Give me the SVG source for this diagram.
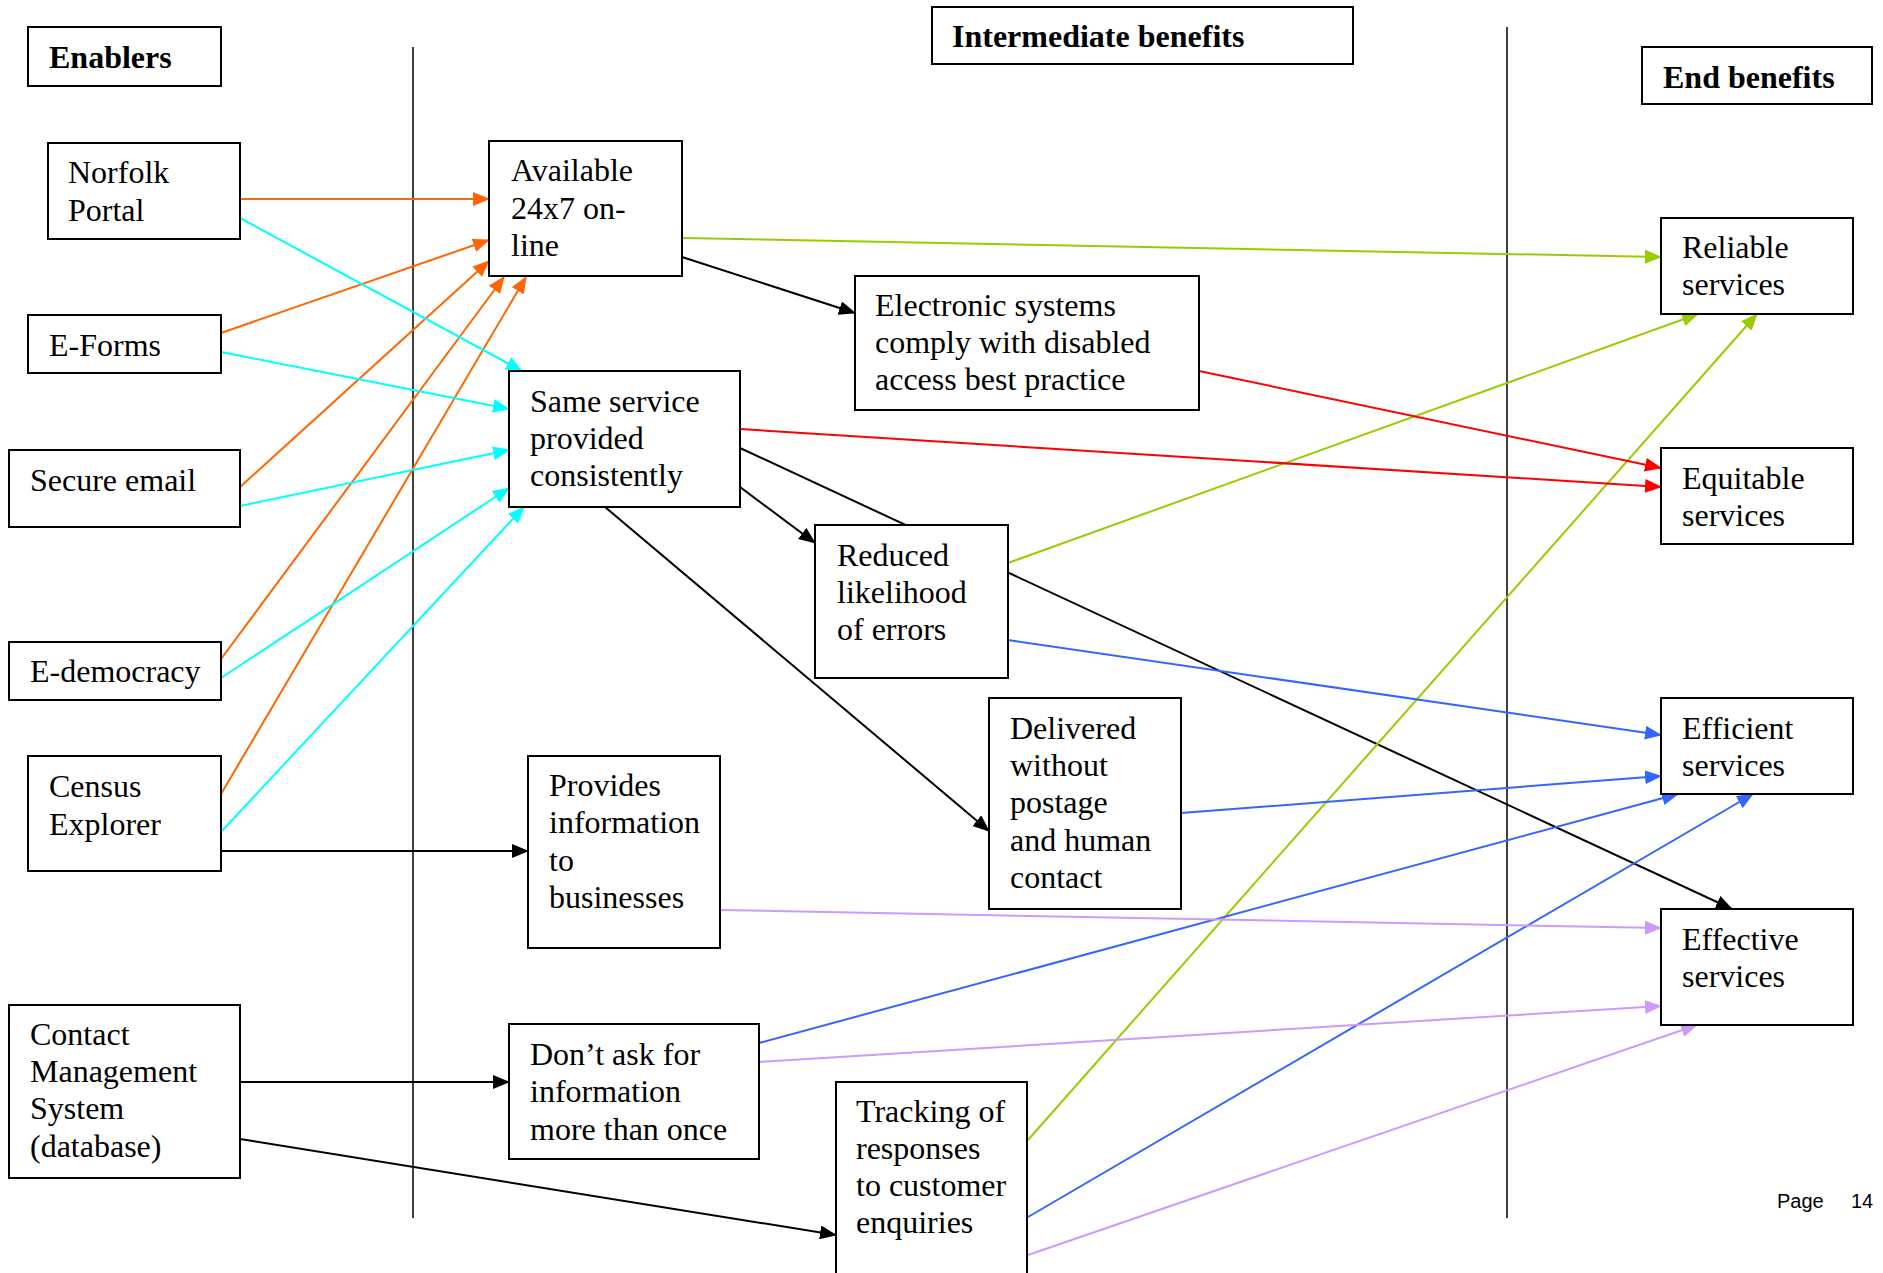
<svg xmlns="http://www.w3.org/2000/svg" width="1883" height="1273" viewBox="0 0 1883 1273">
<style>
.box{fill:#fff;stroke:#000;stroke-width:2}
.t{font-family:"Liberation Serif","Times New Roman",serif;font-size:32px;fill:#000}
.h{font-family:"Liberation Serif","Times New Roman",serif;font-size:32px;font-weight:bold;fill:#000}
.div{stroke:#000;stroke-width:1.5}
.c{fill:none;stroke-width:2}
.or{stroke:#FF6600;marker-end:url(#mo)}
.cy{stroke:#00FFFF;marker-end:url(#mc)}
.bk{stroke:#000;marker-end:url(#mb)}
.gr{stroke:#99CC00;marker-end:url(#mg)}
.rd{stroke:#FF0000;marker-end:url(#mr)}
.bl{stroke:#3366FF;marker-end:url(#mu)}
.pu{stroke:#CC99FF;marker-end:url(#mp)}
</style>
<defs>
<marker id="mo" markerUnits="userSpaceOnUse" markerWidth="17" markerHeight="14" refX="16" refY="7" orient="auto"><path d="M0,0 L17,7 L0,14 z" fill="#FF6600"/></marker>
<marker id="mc" markerUnits="userSpaceOnUse" markerWidth="17" markerHeight="14" refX="16" refY="7" orient="auto"><path d="M0,0 L17,7 L0,14 z" fill="#00FFFF"/></marker>
<marker id="mb" markerUnits="userSpaceOnUse" markerWidth="17" markerHeight="14" refX="16" refY="7" orient="auto"><path d="M0,0 L17,7 L0,14 z" fill="#000"/></marker>
<marker id="mg" markerUnits="userSpaceOnUse" markerWidth="17" markerHeight="14" refX="16" refY="7" orient="auto"><path d="M0,0 L17,7 L0,14 z" fill="#99CC00"/></marker>
<marker id="mr" markerUnits="userSpaceOnUse" markerWidth="17" markerHeight="14" refX="16" refY="7" orient="auto"><path d="M0,0 L17,7 L0,14 z" fill="#FF0000"/></marker>
<marker id="mu" markerUnits="userSpaceOnUse" markerWidth="17" markerHeight="14" refX="16" refY="7" orient="auto"><path d="M0,0 L17,7 L0,14 z" fill="#3366FF"/></marker>
<marker id="mp" markerUnits="userSpaceOnUse" markerWidth="17" markerHeight="14" refX="16" refY="7" orient="auto"><path d="M0,0 L17,7 L0,14 z" fill="#CC99FF"/></marker>
</defs>
<rect x="0" y="0" width="1883" height="1273" fill="#fff"/>
<g id="dividers">
<line class="div" x1="413" y1="47" x2="413" y2="1218"/>
<line class="div" x1="1507" y1="27" x2="1507" y2="1218"/>
</g>
<g id="connectors">
<line class="c or" x1="240" y1="199" x2="489" y2="199"/>
<line class="c or" x1="221" y1="333" x2="489" y2="240"/>
<line class="c or" x1="240" y1="487" x2="489" y2="261"/>
<line class="c or" x1="221" y1="659" x2="504" y2="277"/>
<line class="c or" x1="221" y1="794" x2="526" y2="277"/>
<line class="c cy" x1="240" y1="218" x2="522" y2="371"/>
<line class="c cy" x1="221" y1="352" x2="509" y2="409"/>
<line class="c cy" x1="240" y1="506" x2="509" y2="450"/>
<line class="c cy" x1="221" y1="678" x2="509" y2="488"/>
<line class="c cy" x1="221" y1="832" x2="524" y2="507"/>
<line class="c bk" x1="682" y1="257" x2="855" y2="313"/>
<line class="c bk" x1="740" y1="448" x2="1732" y2="909"/>
<line class="c bk" x1="740" y1="487" x2="815" y2="543"/>
<line class="c bk" x1="605" y1="507" x2="989" y2="831"/>
<line class="c bk" x1="221" y1="851" x2="528" y2="851"/>
<line class="c bk" x1="240" y1="1082" x2="509" y2="1082"/>
<line class="c bk" x1="240" y1="1139" x2="836" y2="1235"/>
<line class="c gr" x1="682" y1="238" x2="1661" y2="257"/>
<line class="c gr" x1="1008" y1="563" x2="1698" y2="314"/>
<line class="c gr" x1="1028" y1="1140" x2="1757" y2="314"/>
<line class="c rd" x1="1199" y1="371" x2="1661" y2="468"/>
<line class="c rd" x1="740" y1="429" x2="1661" y2="487"/>
<line class="c bl" x1="1008" y1="640" x2="1661" y2="735"/>
<line class="c bl" x1="1181" y1="813" x2="1661" y2="776"/>
<line class="c bl" x1="759" y1="1043" x2="1678" y2="794"/>
<line class="c bl" x1="1028" y1="1217" x2="1753" y2="794"/>
<line class="c pu" x1="721" y1="910" x2="1661" y2="928"/>
<line class="c pu" x1="759" y1="1062" x2="1661" y2="1006"/>
<line class="c pu" x1="1028" y1="1255" x2="1697" y2="1025"/>
</g>
<g id="enablers-header"><rect class="box" x="28" y="27" width="193" height="59"/><text class="h" x="49" y="68">Enablers</text></g>
<g id="intermediate-header"><rect class="box" x="932" y="7" width="421" height="57"/><text class="h" x="952" y="47">Intermediate benefits</text></g>
<g id="end-header"><rect class="box" x="1642" y="47" width="230" height="57"/><text class="h" x="1663" y="88">End benefits</text></g>
<g id="norfolk-portal"><rect class="box" x="48" y="143" width="192" height="96"/><text class="t" x="68" y="183">Norfolk<tspan x="68" dy="37.5">Portal</tspan></text></g>
<g id="e-forms"><rect class="box" x="28" y="315" width="193" height="58"/><text class="t" x="49" y="356">E-Forms</text></g>
<g id="secure-email"><rect class="box" x="9" y="450" width="231" height="77"/><text class="t" x="30" y="491">Secure email</text></g>
<g id="e-democracy"><rect class="box" x="9" y="642" width="212" height="58"/><text class="t" x="30" y="682">E-democracy</text></g>
<g id="census-explorer"><rect class="box" x="28" y="756" width="193" height="115"/><text class="t" x="49" y="797">Census<tspan x="49" dy="37.5">Explorer</tspan></text></g>
<g id="contact-management"><rect class="box" x="9" y="1005" width="231" height="173"/><text class="t" x="30" y="1045">Contact<tspan x="30" dy="37.2">Management</tspan><tspan x="30" dy="37.2">System</tspan><tspan x="30" dy="37.2">(database)</tspan></text></g>
<g id="available-24x7"><rect class="box" x="489" y="141" width="193" height="135"/><text class="t" x="511" y="181">Available<tspan x="511" dy="37.5">24x7 on-</tspan><tspan x="511" dy="37.5">line</tspan></text></g>
<g id="same-service"><rect class="box" x="509" y="371" width="231" height="136"/><text class="t" x="530" y="412">Same service<tspan x="530" dy="37.2">provided</tspan><tspan x="530" dy="37.2">consistently</tspan></text></g>
<g id="electronic-systems"><rect class="box" x="855" y="276" width="344" height="134"/><text class="t" x="875" y="316">Electronic systems<tspan x="875" dy="37.2">comply with disabled</tspan><tspan x="875" dy="37.2">access best practice</tspan></text></g>
<g id="reduced-errors"><rect class="box" x="815" y="525" width="193" height="153"/><text class="t" x="837" y="566">Reduced<tspan x="837" dy="37.2">likelihood</tspan><tspan x="837" dy="37.2">of errors</tspan></text></g>
<g id="provides-information"><rect class="box" x="528" y="756" width="192" height="192"/><text class="t" x="549" y="796">Provides<tspan x="549" dy="37.4">information</tspan><tspan x="549" dy="37.4">to</tspan><tspan x="549" dy="37.4">businesses</tspan></text></g>
<g id="delivered-without-postage"><rect class="box" x="989" y="698" width="192" height="211"/><text class="t" x="1010" y="739">Delivered<tspan x="1010" dy="37.2">without</tspan><tspan x="1010" dy="37.2">postage</tspan><tspan x="1010" dy="37.2">and human</tspan><tspan x="1010" dy="37.2">contact</tspan></text></g>
<g id="dont-ask"><rect class="box" x="509" y="1024" width="250" height="135"/><text class="t" x="530" y="1065">Don’t ask for<tspan x="530" dy="37.4">information</tspan><tspan x="530" dy="37.4">more than once</tspan></text></g>
<g id="tracking-responses"><rect class="box" x="836" y="1082" width="191" height="210"/><text class="t" x="856" y="1122">Tracking of<tspan x="856" dy="37">responses</tspan><tspan x="856" dy="37">to customer</tspan><tspan x="856" dy="37">enquiries</tspan></text></g>
<g id="reliable-services"><rect class="box" x="1661" y="218" width="192" height="96"/><text class="t" x="1682" y="258">Reliable<tspan x="1682" dy="37">services</tspan></text></g>
<g id="equitable-services"><rect class="box" x="1661" y="448" width="192" height="96"/><text class="t" x="1682" y="489">Equitable<tspan x="1682" dy="37">services</tspan></text></g>
<g id="efficient-services"><rect class="box" x="1661" y="698" width="192" height="96"/><text class="t" x="1682" y="739">Efficient<tspan x="1682" dy="37">services</tspan></text></g>
<g id="effective-services"><rect class="box" x="1661" y="909" width="192" height="116"/><text class="t" x="1682" y="950">Effective<tspan x="1682" dy="37">services</tspan></text></g>
<g id="page-number"><text x="1777" y="1208" font-family="'Liberation Sans',Arial,sans-serif" font-size="20" fill="#000">Page</text><text x="1851" y="1208" font-family="'Liberation Sans',Arial,sans-serif" font-size="20" fill="#000">14</text></g>
</svg>
